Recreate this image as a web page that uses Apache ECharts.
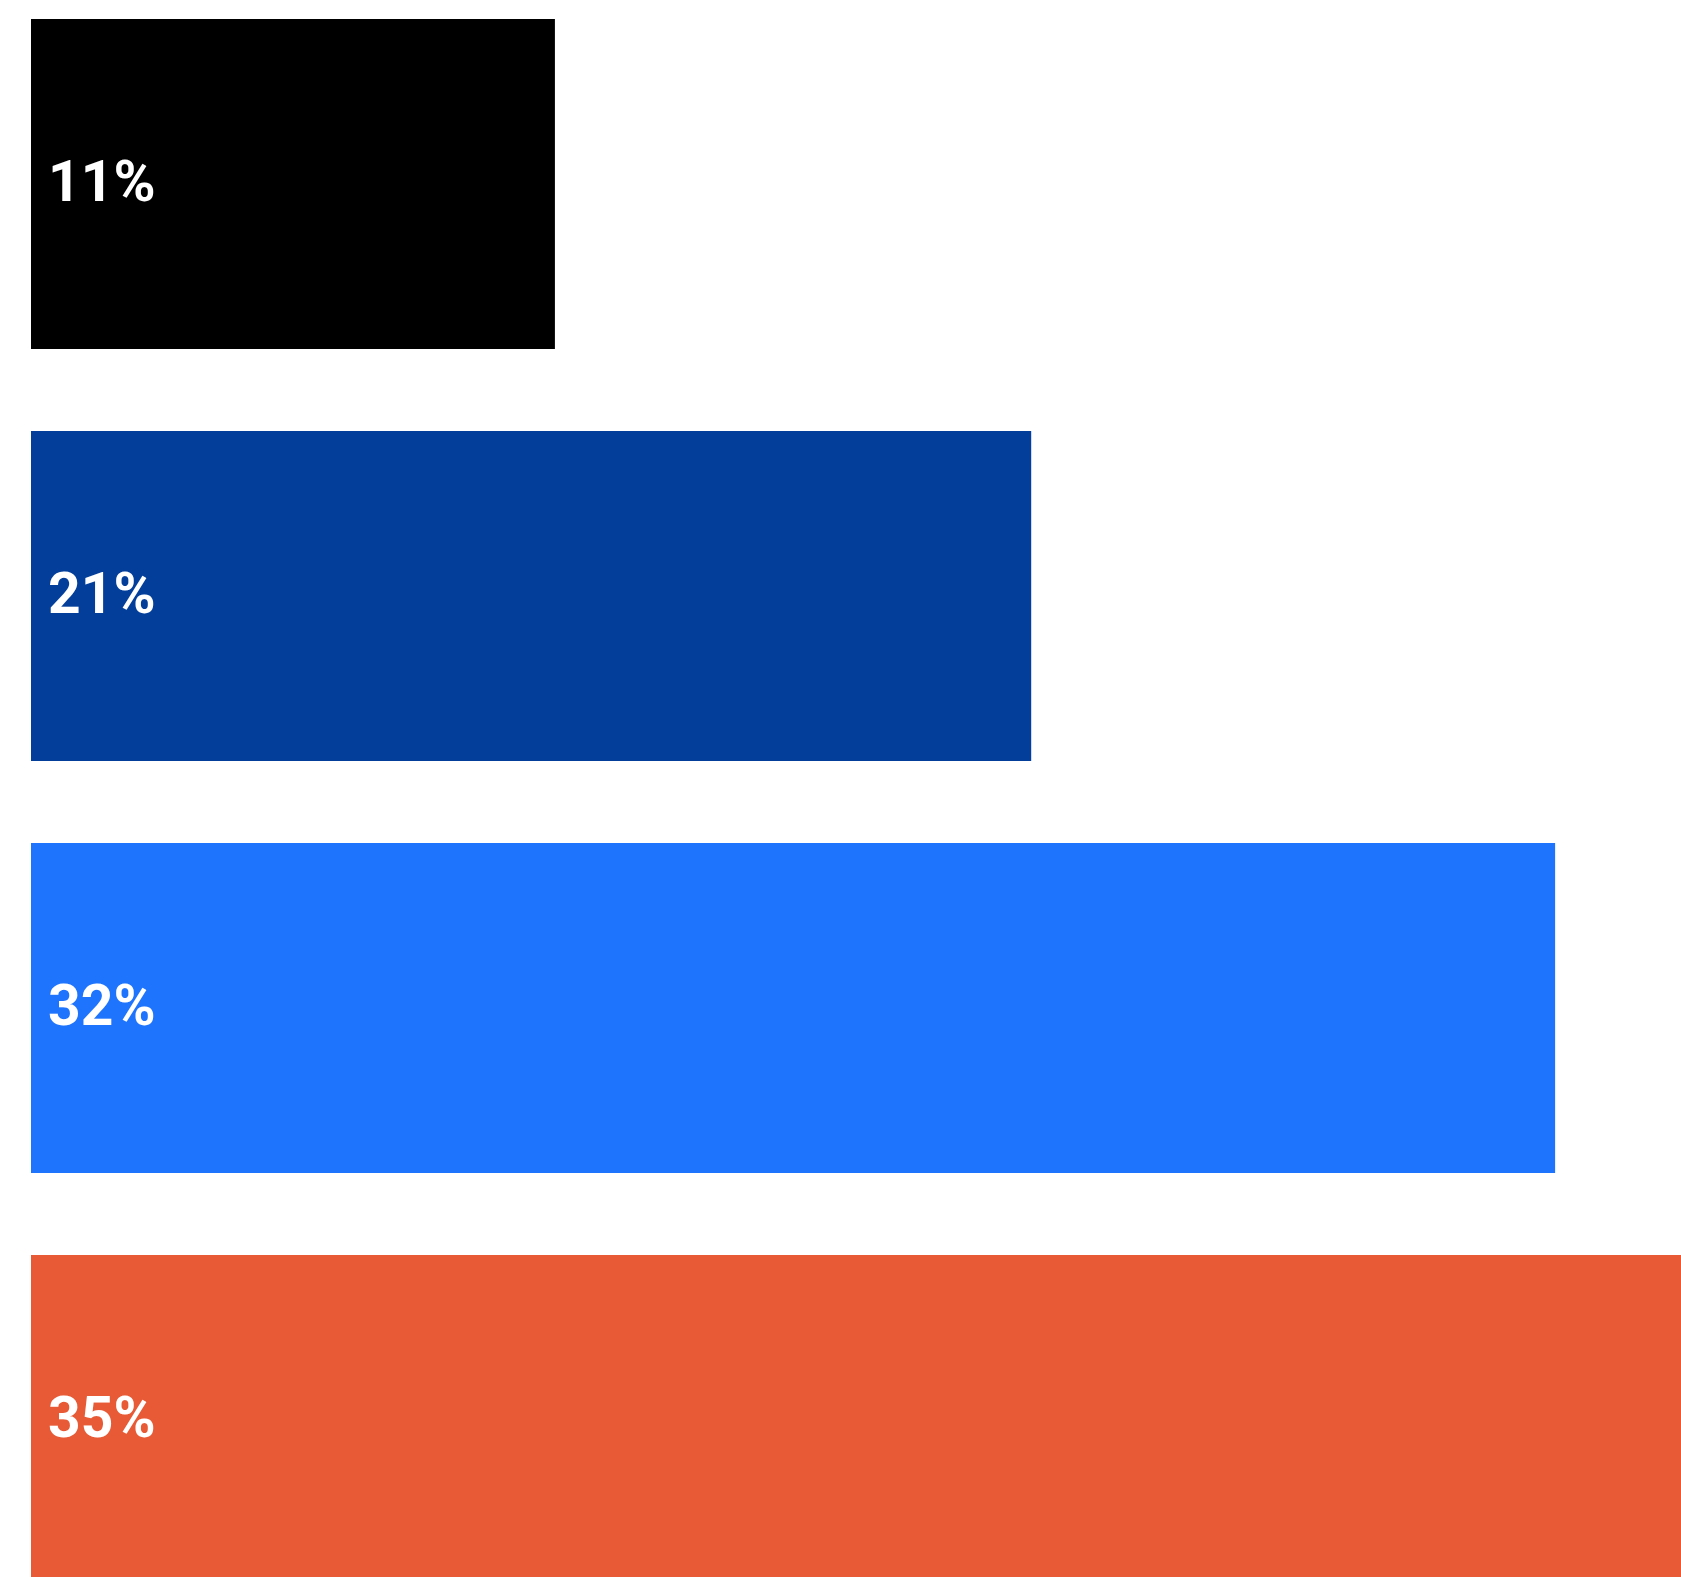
<!DOCTYPE html>
<html>
<head>
<meta charset="utf-8">
<script src="https://cdn.jsdelivr.net/npm/echarts@6/dist/echarts.min.js"></script>
<style>
  html, body { margin: 0; padding: 0; background: #ffffff; overflow: hidden; width: 1681px; height: 1577px; }
  #chart { position: absolute; left: 0; top: -22px; width: 1740px; height: 1648px; }
</style>
</head>
<body>
<div id="chart"></div>
<script>
// Shares shown as horizontal bars, top to bottom
const categories = ['A', 'B', 'C', 'D'];
const values = [11, 21, 32, 35];
const barColors = ['#000000', '#023E9A', '#1F74FE', '#E85A35'];

const chart = echarts.init(document.getElementById('chart'), null, { renderer: 'canvas' });

chart.setOption({
  animation: false,
  backgroundColor: '#ffffff',
  grid: { left: 31, top: 0, width: 1667, height: 1648, containLabel: false },
  xAxis: {
    type: 'value',
    min: 0,
    max: 35,
    show: false
  },
  yAxis: {
    type: 'category',
    data: categories,
    inverse: true,
    show: false
  },
  series: [{
    type: 'bar',
    barCategoryGap: '19.9%',
    data: values.map((v, i) => ({ value: v, itemStyle: { color: barColors[i] } })),
    label: {
      show: true,
      position: 'insideLeft',
      distance: 17,
      offset: [0, 3],
      color: '#ffffff',
      fontFamily: 'Roboto',
      fontWeight: 'bold',
      fontSize: 57,
      formatter: p => p.value + '%'
    }
  }]
});
</script>
</body>
</html>
